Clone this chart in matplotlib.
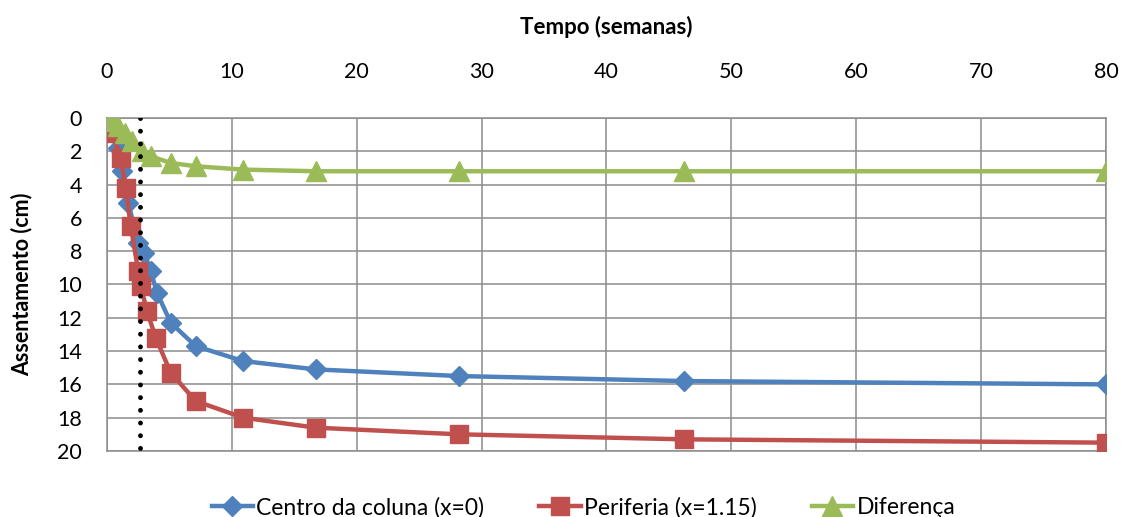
import matplotlib
matplotlib.use("Agg")
import matplotlib.pyplot as plt

plt.rcParams['font.family'] = ['Lato', 'DejaVu Sans']

# tempo (semanas) e assentamento (cm)
t_centro = [0, 0.5, 0.9, 1.2, 1.7, 2.5, 3.0, 3.5, 4.0, 5.1, 7.1, 10.9, 16.7, 28.2, 46.2, 80]
s_centro = [0, 0.6, 1.8, 3.2, 5.1, 7.5, 8.1, 9.2, 10.5, 12.3, 13.7, 14.6, 15.1, 15.5, 15.8, 16.0]

t_periferia = [0, 0.4, 1.1, 1.5, 1.9, 2.5, 2.7, 3.2, 3.9, 5.1, 7.1, 10.9, 16.7, 28.2, 46.2, 80]
s_periferia = [0, 0.9, 2.4, 4.2, 6.5, 9.2, 10.1, 11.6, 13.2, 15.3, 17.0, 18.0, 18.6, 19.0, 19.3, 19.5]

t_diferenca = [0, 0.4, 0.9, 1.4, 2.0, 2.8, 3.5, 5.1, 7.1, 10.9, 16.7, 28.2, 46.2, 80]
s_diferenca = [0, 0.2, 0.5, 0.9, 1.4, 2.0, 2.3, 2.7, 2.9, 3.1, 3.2, 3.2, 3.2, 3.2]

t_limite = 2.6

fig = plt.figure(figsize=(11.22, 5.17), dpi=100)
ax = fig.add_axes([0.0954, 0.1277, 0.8903, 0.6441])

ax.plot(t_centro, s_centro, color='#4F81BD', lw=3.2, marker='D', ms=10.5,
        label='Centro da coluna (x=0)', zorder=3)
ax.plot(t_periferia, s_periferia, color='#C0504D', lw=3.2, marker='s', ms=13.5,
        label='Periferia (x=1.15)', zorder=4)
ax.plot(t_diferenca, s_diferenca, color='#9BBB59', lw=3.2, marker='^', ms=14,
        label='Diferença', zorder=5)
ax.plot([t_limite, t_limite], [0, 20], color='black', lw=3.5,
        linestyle=(0, (0.01, 2.6)), dash_capstyle='round', zorder=6)

ax.set_xlim(0, 80)
ax.set_ylim(20, 0)
ax.set_xticks(range(0, 81, 10))
ax.set_yticks(range(0, 21, 2))
ax.xaxis.tick_top()
ax.xaxis.set_label_position('top')
ax.tick_params(labelsize=15.5, length=0)
ax.tick_params(axis='x', pad=26)
ax.tick_params(axis='y', pad=18)

ax.set_xlabel('Tempo (semanas)', fontsize=16, fontweight='bold', va='center')
ax.set_ylabel('Assentamento (cm)', fontsize=15.5, fontweight='bold', va='center')
ax.xaxis.set_label_coords(0.5, 1.273)
ax.yaxis.set_label_coords(-0.085, 0.5)

ax.grid(True, color='#8c8c8c', lw=1.1)
ax.set_axisbelow(True)
for sp in ax.spines.values():
    sp.set_color('#8c8c8c')
    sp.set_linewidth(1.1)

fig.legend(loc='center', bbox_to_anchor=(0.52, 0.018), ncol=3, frameon=False,
           fontsize=16.5, handlelength=1.8, columnspacing=2.4, handletextpad=0.15)

fig.savefig('out.png', dpi=100)
